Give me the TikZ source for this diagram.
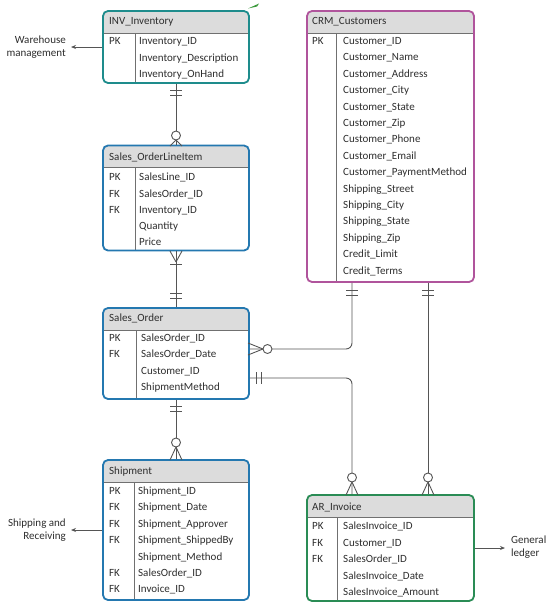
\documentclass[tikz,border=0pt]{standalone}
\usepackage{fontspec}
\setmainfont{Carlito}
\usetikzlibrary{arrows.meta,calc}
\definecolor{tealc}{HTML}{1E8C8C}
\definecolor{bluec}{HTML}{2478B0}
\definecolor{magc}{HTML}{B0549C}
\definecolor{greenc}{HTML}{2A8C55}
\definecolor{hdr}{HTML}{DCDCDC}
\definecolor{txt}{HTML}{2E2E2E}
\definecolor{ln}{HTML}{555555}
\definecolor{sepc}{HTML}{707070}
\definecolor{markc}{HTML}{3C9A3C}
\tikzset{
  sepline/.style={draw=sepc, line width=0.8pt, sharp corners},
  entity/.style 2 args={draw=#1, line width=1.8pt, rounded corners=5pt, inner sep=0pt, fill=white,
    path picture={
      \fill[hdr, sharp corners] (path picture bounding box.north west) rectangle ([yshift=-22pt]path picture bounding box.north east);
      \draw[sepline] ([yshift=-22pt]path picture bounding box.north west) -- ([yshift=-22pt]path picture bounding box.north east);
      \draw[sepline] ([xshift=#2pt,yshift=-22pt]path picture bounding box.north west) -- ([xshift=#2pt]path picture bounding box.south west);
    }},
  lbl/.style={anchor=west, inner sep=0pt, text=txt, text height=7pt, text depth=0pt, font=\fontsize{11}{13}\selectfont},
  side/.style={inner sep=0pt, text=txt, font=\fontsize{11}{13}\selectfont},
  conn/.style={draw=ln, line width=0.9pt},
  ercircle/.style={draw=ln, line width=0.9pt, fill=white},
  outarrow/.style={draw=ln, line width=0.9pt, -{Stealth[length=5pt,width=4pt]}},
}
\newcommand\fld[6]{\node[lbl] (#1k) at (#2,#4) {#5};\node[lbl] (#1f) at (#3,#4) {#6};}
\begin{document}
\begin{tikzpicture}[x=1pt,y=-1pt]
\useasboundingbox (0,0) rectangle (552,606);
\fill[white] (0,0) rectangle (552,606);

% ---------- entities ----------
\node[entity={tealc}{32}, minimum width=146pt, minimum height=72pt] (inv) at (176,47) {};
\node[entity={bluec}{32}, minimum width=146pt, minimum height=105pt] (soli) at (176,198) {};
\node[entity={bluec}{33}, minimum width=146pt, minimum height=91pt] (so) at (176,353.5) {};
\node[entity={bluec}{31}, minimum width=146pt, minimum height=140pt] (ship) at (176,530) {};
\node[entity={magc}{29}, minimum width=167pt, minimum height=271pt] (crm) at (390.5,146.5) {};
\node[entity={greenc}{30}, minimum width=167pt, minimum height=106pt] (ar) at (390.5,548) {};

% ---------- texts ----------
\node[lbl] (invt) at (109,21) {INV\_Inventory};
\fld{inv1}{109}{139}{41}{PK}{Inventory\_ID}
\fld{inv2}{109}{139}{57.5}{}{Inventory\_Description}
\fld{inv3}{109}{139}{74}{}{Inventory\_OnHand}

\node[lbl] (solit) at (109,157) {Sales\_OrderLineItem};
\fld{soli1}{109}{139}{177}{PK}{SalesLine\_ID}
\fld{soli2}{109}{139}{193.5}{FK}{SalesOrder\_ID}
\fld{soli3}{109}{139}{210}{FK}{Inventory\_ID}
\fld{soli4}{109}{139}{226}{}{Quantity}
\fld{soli5}{109}{139}{242}{}{Price}

\node[lbl] (sot) at (109,318) {Sales\_Order};
\fld{so1}{109}{141}{338}{PK}{SalesOrder\_ID}
\fld{so2}{109}{141}{354}{FK}{SalesOrder\_Date}
\fld{so3}{109}{141}{371}{}{Customer\_ID}
\fld{so4}{109}{141}{387}{}{ShipmentMethod}

\node[lbl] (shipt) at (109,471) {Shipment};
\fld{sh1}{109}{138}{491}{PK}{Shipment\_ID}
\fld{sh2}{109}{138}{507}{FK}{Shipment\_Date}
\fld{sh3}{109}{138}{523.5}{FK}{Shipment\_Approver}
\fld{sh4}{109}{138}{540}{FK}{Shipment\_ShippedBy}
\fld{sh5}{109}{138}{556.5}{}{Shipment\_Method}
\fld{sh6}{109}{138}{573}{FK}{SalesOrder\_ID}
\fld{sh7}{109}{138}{589}{FK}{Invoice\_ID}

\node[lbl] (crmt) at (312,21) {CRM\_Customers};
\node[lbl] (crmk) at (312,41) {PK};
\foreach \t [count=\i from 0] in {Customer\_ID,Customer\_Name,Customer\_Address,Customer\_City,Customer\_State,Customer\_Zip,Customer\_Phone,Customer\_Email,Customer\_PaymentMethod,Shipping\_Street,Shipping\_City,Shipping\_State,Shipping\_Zip,Credit\_Limit,Credit\_Terms}
  \node[lbl] (crmf\i) at (343,41+16.4*\i) {\t};

\node[lbl] (art) at (312,507) {AR\_Invoice};
\fld{ar1}{312}{343}{526}{PK}{SalesInvoice\_ID}
\fld{ar2}{312}{343}{542.5}{FK}{Customer\_ID}
\fld{ar3}{312}{343}{559}{FK}{SalesOrder\_ID}
\fld{ar4}{312}{343}{575.5}{}{SalesInvoice\_Date}
\fld{ar5}{312}{343}{592}{}{SalesInvoice\_Amount}

% ---------- external flows ----------
\coordinate (wh) at (71,47);
\coordinate (sr) at (71,530);
\coordinate (gl) at (505,548);
\draw[outarrow] (inv.west) -- (wh);
\draw[outarrow] (ship.west) -- (sr);
\draw[outarrow] (ar.east) -- (gl);
\node[side, anchor=east, align=right] (whl) at (66,47) {Warehouse\\management};
\node[side, anchor=east, align=right] (srl) at (66,530) {Shipping and\\Receiving};
\node[side, anchor=west, align=left] (gll) at (511,547) {General\\ledger};

% ---------- relationships ----------
\coordinate (cx1) at (352,0);
\coordinate (cx2) at (428,0);
\draw[conn] (inv.south) -- (soli.north);
\draw[conn] (soli.south) -- (so.north);
\draw[conn] (so.south) -- (ship.north);
\draw[conn, rounded corners=6pt] (cx1 |- crm.south) |- ([yshift=4.5pt]so.east);
\draw[conn, rounded corners=6pt] ([yshift=-24.5pt]so.east) -| (cx1 |- ar.north);
\draw[conn] (cx2 |- crm.south) -- (cx2 |- ar.north);

% symbols: INV -> SOLI
\draw[conn] (170,90) -- (182,90) (170,95) -- (182,95);
\draw[conn] (176,140) -- (170,146) (176,140) -- (182,146);
\draw[ercircle] (176,135.5) circle (4.5pt);
% SOLI -> Sales_Order
\draw[conn] (176,262) -- (170,251) (176,262) -- (182,251);
\draw[conn] (170,264) -- (182,264);
\draw[conn] (170,293) -- (182,293) (170,298) -- (182,298);
% Sales_Order -> Shipment
\draw[conn] (170,406) -- (182,406) (170,411) -- (182,411);
\draw[conn] (176,447) -- (170,460) (176,447) -- (182,460);
\draw[ercircle] (176,442.5) circle (4.5pt);
% CRM -> Sales_Order
\draw[conn] (346,290) -- (358,290) (346,295) -- (358,295);
\draw[conn] (263,349) -- (248,343) (263,349) -- (248,355);
\draw[ercircle] (267.5,349) circle (4.5pt);
% Sales_Order -> AR
\draw[conn] (256,372) -- (256,384) (261,372) -- (261,384);
\draw[conn] (352,482) -- (346,495) (352,482) -- (358,495);
\draw[ercircle] (352,477.5) circle (4.5pt);
% CRM -> AR
\draw[conn] (422,290) -- (434,290) (422,295) -- (434,295);
\draw[conn] (428,482) -- (422,495) (428,482) -- (434,495);
\draw[ercircle] (428,477.5) circle (4.5pt);

% small green mark
\fill[markc] (248,8.5) -- (259,3.5) -- (257,6.5) -- cycle;
\end{tikzpicture}
\end{document}
